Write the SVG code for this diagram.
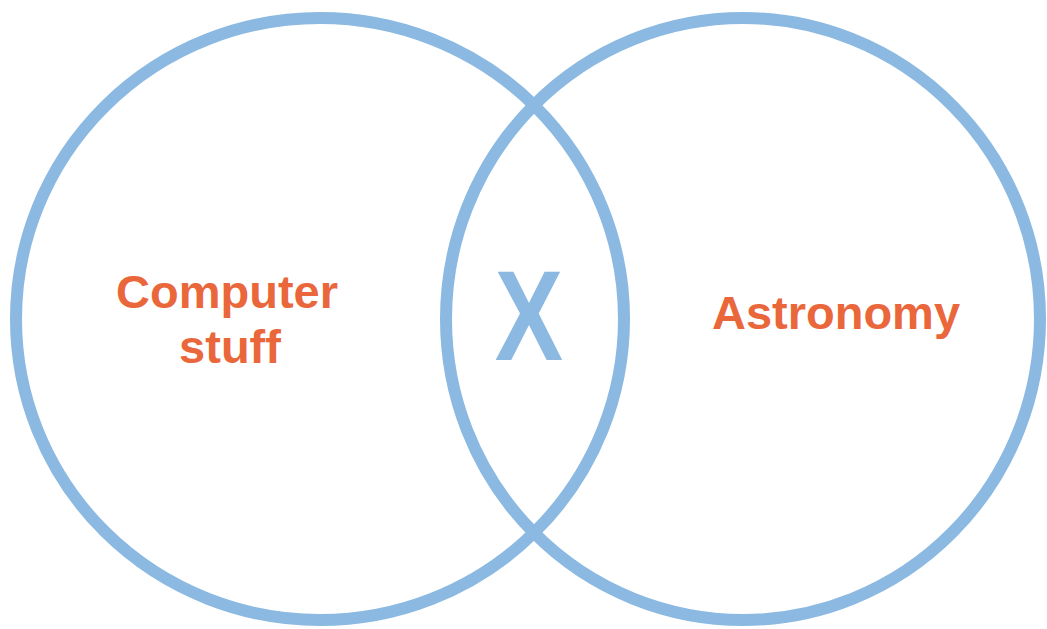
<svg xmlns="http://www.w3.org/2000/svg" width="1047" height="629" viewBox="0 0 1047 629">
  <style>
    .ring { fill: none; stroke: #8BB9E1; stroke-width: 12; }
    .label { font-family: "Liberation Sans", Arial, sans-serif; font-weight: bold; font-size: 47px; fill: #EA673B; text-anchor: middle; }
    .x { font-family: "Liberation Sans", Arial, sans-serif; font-weight: bold; font-size: 128px; fill: #8BB9E1; text-anchor: middle; }
  </style>
  <rect width="1047" height="629" fill="#FFFFFF"/>
  <g id="set-computer">
    <ellipse class="ring" cx="320" cy="319" rx="304" ry="301"/>
    <text class="label" x="227" y="308">Computer</text>
    <text class="label" x="230" y="363">stuff</text>
  </g>
  <g id="set-astronomy">
    <ellipse class="ring" cx="743" cy="319" rx="297" ry="301"/>
    <text class="label" x="836" y="329">Astronomy</text>
  </g>
  <g id="intersection">
    <text class="x" transform="translate(529,360) scale(0.8,1)" x="0" y="0">X</text>
  </g>
</svg>
